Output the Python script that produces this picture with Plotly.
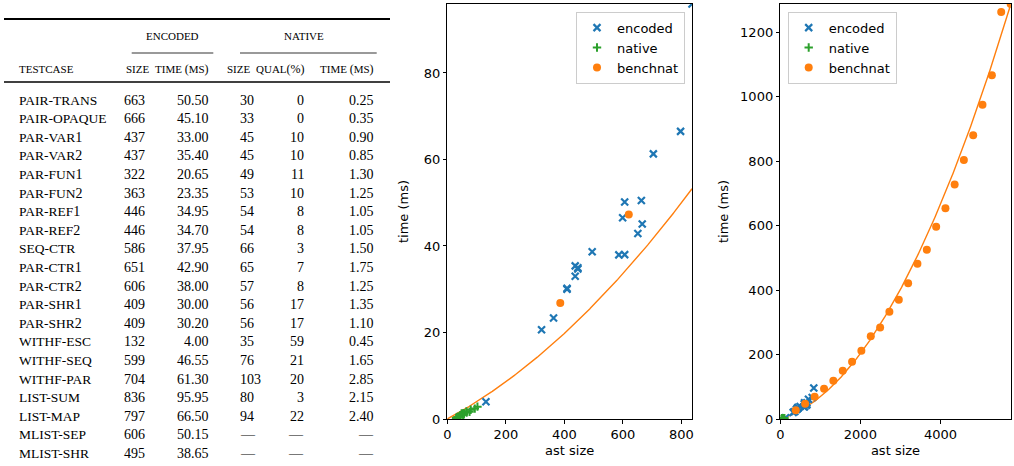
import re
import numpy as np
import plotly.graph_objects as go

W, H = 1014, 466

# ---------------- data ----------------
testcases = ["pair-trans", "pair-opaque", "par-var1", "par-var2", "par-fun1", "par-fun2",
             "par-ref1", "par-ref2", "seq-ctr", "par-ctr1", "par-ctr2", "par-shr1",
             "par-shr2", "withf-esc", "withf-seq", "withf-par", "list-sum", "list-map",
             "mlist-sep", "mlist-shr"]
enc_size = [663, 666, 437, 437, 322, 363, 446, 446, 586, 651, 606, 409, 409, 132, 599, 704, 836, 797, 606, 495]
enc_time = [50.50, 45.10, 33.00, 35.40, 20.65, 23.35, 34.95, 34.70, 37.95, 42.90, 38.00, 30.00,
            30.20, 4.00, 46.55, 61.30, 95.95, 66.50, 50.15, 38.65]
nat_size = [30, 33, 45, 45, 49, 53, 54, 54, 66, 65, 57, 56, 56, 35, 76, 103, 80, 94, None, None]
nat_qual = [0, 0, 10, 10, 11, 10, 8, 8, 3, 7, 8, 17, 17, 59, 21, 20, 3, 22, None, None]
nat_time = [0.25, 0.35, 0.90, 0.85, 1.30, 1.25, 1.05, 1.05, 1.50, 1.75, 1.25, 1.35, 1.10, 0.45,
            1.65, 2.85, 2.15, 2.40, None, None]

bench_size = [386, 620, 858, 1093, 1325, 1560, 1793, 2025, 2260, 2493, 2725, 2960, 3193, 3425,
              3660, 3893, 4125, 4355, 4585, 4818, 5050, 5285, 5518, 5755]
bench_time = [26.8, 47.3, 69.3, 94, 119, 150, 178, 212, 257, 284, 333, 370, 421, 482, 525, 597,
              654, 728, 804, 881, 975, 1067, 1263, 1288]

# fitted curve (quadratic through origin), coefficients
FIT_A = 3.25e-5
FIT_B = 0.0365

col_headers = ["testcase", "size", "time (ms)", "size", "qual(%)", "time (ms)"]
group_headers = ["encoded", "native"]
series_names = ["encoded", "native", "benchnat"]

BLUE, GREEN, ORANGE = "#1f77b4", "#2ca02c", "#ff7f0e"

# ---------------- figure ----------------
fig = go.Figure()

nat_x = [s for s in nat_size if s is not None]
nat_y = [t for t in nat_time if t is not None]


def add_panel(xa, ya, leg, xmax):
    xs = np.linspace(0, xmax, 300)
    fig.add_trace(go.Scatter(x=xs, y=FIT_A * xs ** 2 + FIT_B * xs, mode="lines",
                             line=dict(color=ORANGE, width=1.4), showlegend=False,
                             hoverinfo="skip", xaxis=xa, yaxis=ya))
    fig.add_trace(go.Scatter(x=enc_size, y=enc_time, mode="markers", name=series_names[0],
                             marker=dict(symbol="x-thin", size=7, color=BLUE,
                                         line=dict(width=2.2, color=BLUE)),
                             xaxis=xa, yaxis=ya, legend=leg))
    fig.add_trace(go.Scatter(x=nat_x, y=nat_y, mode="markers", name=series_names[1],
                             marker=dict(symbol="cross-thin", size=6, color=GREEN,
                                         line=dict(width=2, color=GREEN)),
                             xaxis=xa, yaxis=ya, legend=leg))
    fig.add_trace(go.Scatter(x=bench_size, y=bench_time, mode="markers", name=series_names[2],
                             marker=dict(symbol="circle", size=8, color=ORANGE),
                             xaxis=xa, yaxis=ya, legend=leg))


add_panel("x", "y", "legend", max(enc_size))
add_panel("x2", "y2", "legend2", max(bench_size))

axis_font = dict(family="DejaVu Sans", size=13, color="black")
common = dict(showline=True, mirror=True, linecolor="black", linewidth=1, ticks="outside",
              ticklen=3.5, tickwidth=1, tickcolor="black", showgrid=False, zeroline=False,
              tickfont=axis_font)

ybot = 1 - 419 / H
ytop = 1 - 4 / H

fig.update_layout(
    width=W, height=H, margin=dict(l=0, r=0, t=0, b=0, autoexpand=False),
    paper_bgcolor="white", plot_bgcolor="white",
    font=dict(family="DejaVu Sans", size=13, color="black"),
    xaxis=dict(domain=[447.3 / W, 692 / W], range=[0, max(enc_size)], dtick=200,
               title=dict(text="ast size", font=axis_font, standoff=4), anchor="y",
               automargin=False, **common),
    yaxis=dict(domain=[ybot, ytop], range=[0, max(enc_time)], dtick=20,
               title=dict(text="time (ms)", font=axis_font, standoff=12), anchor="x",
               automargin=True, **common),
    xaxis2=dict(domain=[780.3 / W, 1010.7 / W], range=[0, max(bench_size)], dtick=2000,
                title=dict(text="ast size", font=axis_font, standoff=4), anchor="y2",
                automargin=False, **common),
    yaxis2=dict(domain=[ybot, ytop], range=[0, max(bench_time)], dtick=200,
                title=dict(text="time (ms)", font=axis_font, standoff=8), anchor="x2",
                automargin=True, **common),
    legend=dict(x=685 / W, xanchor="right", y=1 - 11.7 / H, yanchor="top",
                bgcolor="rgba(255,255,255,0.85)", bordercolor="#cccccc", borderwidth=1,
                font=axis_font, tracegroupgap=0),
    legend2=dict(x=787.7 / W, xanchor="left", y=1 - 11.7 / H, yanchor="top",
                 bgcolor="rgba(255,255,255,0.85)", bordercolor="#cccccc", borderwidth=1,
                 font=axis_font, tracegroupgap=0),
)

# ---------------- table ----------------
NUM_SIZE = 14
TF = dict(family="Liberation Serif", size=NUM_SIZE, color="black")
TF_ROW = dict(family="Liberation Serif", size=13.5, color="black", textcase="upper")
TF_HDR = dict(family="Liberation Serif", size=11, color="black", textcase="upper")


def smallcaps(s, big):
    # letters rendered as small capitals; digits and punctuation at full size
    return re.sub(r"([0-9()%]+)", r'<span style="font-size:%.1fpx">\1</span>' % big, s)


def px(x):
    return x / W


def py(y):
    return 1 - y / H


annotations = []


def txt(s, x, y, anchor, font):
    annotations.append(dict(text=s, x=px(x), y=py(y), xref="paper", yref="paper",
                            xanchor=anchor, yanchor="middle", showarrow=False, font=font))


ROW0, ROW_H = 100, 18.6
HDR_Y, GRP_Y = 69, 36

txt(smallcaps(group_headers[0], 12), 172, GRP_Y, "center", TF_HDR)
txt(smallcaps(group_headers[1], 12), 304, GRP_Y, "center", TF_HDR)
hdr_pos = [(17, "left"), (124, "left"), (211, "right"), (225, "left"), (307, "right"), (376, "right")]
for h, (x, a) in zip(col_headers, hdr_pos):
    txt(smallcaps(h, 12), x, HDR_Y, a, TF_HDR)

DASH = "\u2014"
for i, name in enumerate(testcases):
    y = ROW0 + i * ROW_H
    txt(smallcaps(name, NUM_SIZE), 17, y, "left", TF_ROW)
    txt(str(enc_size[i]), 122, y, "left", TF)
    txt(f"{enc_time[i]:.2f}", 211, y, "right", TF)
    txt(DASH if nat_size[i] is None else str(nat_size[i]), 238, y, "left", TF)
    txt(DASH if nat_qual[i] is None else str(nat_qual[i]), 306, y, "right", TF)
    txt(DASH if nat_time[i] is None else f"{nat_time[i]:.2f}", 376, y, "right", TF)

shapes = [
    dict(type="line", xref="paper", yref="paper", x0=px(4), x1=px(390), y0=py(19), y1=py(19),
         line=dict(color="black", width=2)),
    dict(type="line", xref="paper", yref="paper", x0=px(4), x1=px(390), y0=py(82), y1=py(82),
         line=dict(color="black", width=1.3)),
    dict(type="line", xref="paper", yref="paper", x0=px(131.7), x1=px(213.3), y0=py(53), y1=py(53),
         line=dict(color="#777777", width=1.5)),
    dict(type="line", xref="paper", yref="paper", x0=px(240), x1=px(376.7), y0=py(53), y1=py(53),
         line=dict(color="#777777", width=1.5)),
]

fig.update_layout(annotations=annotations, shapes=shapes)

fig.write_html("out.html", config={"displayModeBar": False},
               post_script="document.body.style.margin='0px';")
